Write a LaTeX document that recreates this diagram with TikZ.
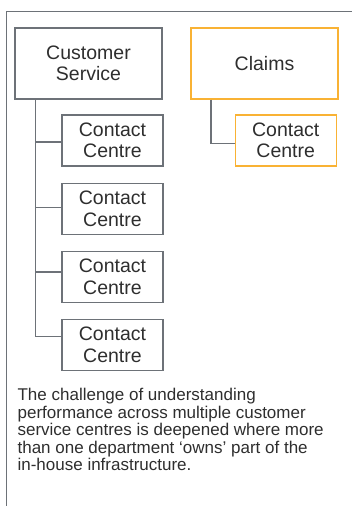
\documentclass[tikz,border=0pt]{standalone}
\usepackage{fontspec}
\setmainfont{Liberation Sans}
\definecolor{linegray}{HTML}{6D7278}
\definecolor{claimorange}{HTML}{F9B234}
\definecolor{textgray}{HTML}{2E2E2E}

\begin{document}
\begin{tikzpicture}[x=1pt,y=-1pt,line width=1.2pt,
                    dept node/.style={rectangle,draw=linegray,minimum width=147pt,minimum height=71pt,
                                      inner sep=0pt,align=center,text=textgray,
                                      font=\fontsize{19.5}{21.5}\selectfont},
                    centre node/.style={dept node,minimum width=101pt,minimum height=51pt},
                    link/.style={draw=linegray}
                   ]
  \useasboundingbox (0,0) rectangle (352,506);
  % open frame round the panel
  \draw[linegray,line width=1pt] (6.7,506) -- (6.7,11.7) -- (352,11.7);

  \node[dept node] (cs) at (88.5,63.5) {Customer\\Service};
  \node[dept node,draw=claimorange] (claims) at (264.5,63.5) {Claims};

  \node[centre node] (cc1) at (112.5,140.5) {Contact\\Centre};
  \node[centre node] (cc2) at (112.5,208.6) {Contact\\Centre};
  \node[centre node] (cc3) at (112.5,276.7) {Contact\\Centre};
  \node[centre node] (cc4) at (112.5,344.8) {Contact\\Centre};
  \node[centre node,draw=claimorange] (ccc) at (285.7,140.5) {Contact\\Centre};

  \coordinate (trunk) at (35.7,0);
  \coordinate (ctrunk) at (211,0);

  \path[link]
   (trunk |- cs.south) edge[-, to path={|- (\tikztotarget)}] ([yshift=-1.5pt]cc1.west)
   (trunk |- cs.south) edge[-, to path={|- (\tikztotarget)}] ([yshift=1.3pt]cc2.west)
   (trunk |- cs.south) edge[-, to path={|- (\tikztotarget)}] ([yshift=4.7pt]cc3.west)
   (trunk |- cs.south) edge[-, to path={|- (\tikztotarget)}] ([yshift=8.1pt]cc4.west)
   (ctrunk |- claims.south) edge[-, to path={|- (\tikztotarget)}] ([yshift=-3.2pt]ccc.west);

  \node[anchor=north west,inner sep=0pt,align=left,text=textgray,
        font=\fontsize{17}{17.5}\selectfont] (note) at (17,388)
       {The challenge of understanding\\
        performance across multiple customer\\
        service centres is deepened where more\\
        than one department ‘owns’ part of the\\
        in-house infrastructure.};
\end{tikzpicture}
\end{document}
